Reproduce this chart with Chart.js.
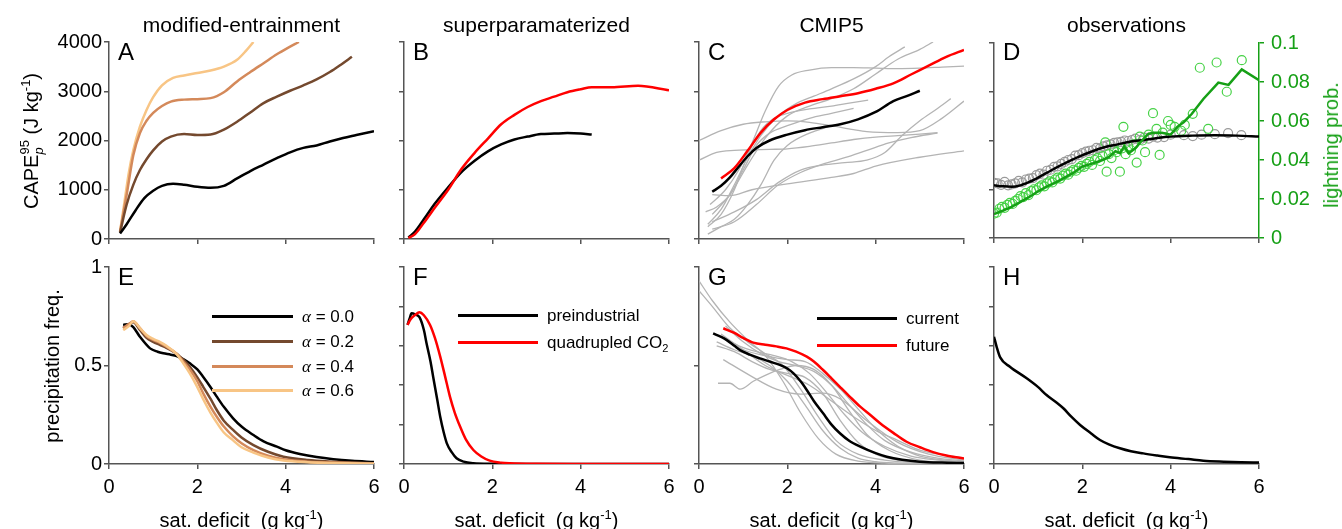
<!DOCTYPE html>
<html>
<head>
<meta charset="utf-8">
<script src="https://cdn.jsdelivr.net/npm/chart.js@4.4.1/dist/chart.umd.min.js"></script>
<style>
    body { margin: 0; background: #fff; }
    #fig { position: relative; width: 1342px; height: 529px; overflow: hidden;
           font-family: "Liberation Sans", Arial, sans-serif; color: #000; }
    #fig canvas { position: absolute; }
    .t { position: absolute; white-space: nowrap; line-height: 1; }
    .t sup, .t sub { font-size: 65%; line-height: 0; }
    .sw { position: absolute; height: 3px; }
    .al { font-family: "Liberation Serif", serif; font-style: italic; }
</style>
</head>
<body>
<div id="fig"></div>
<script>
// ---- data (x = saturation deficit, g/kg) ----

// A: modified entrainment, CAPE
const capeA0x = [0.25, 0.4, 0.6, 0.8, 1.0, 1.2, 1.45, 1.7, 2.0, 2.3, 2.6, 2.9, 3.2, 3.5, 3.8, 4.1, 4.4, 4.7, 5.0, 5.3, 5.6, 6.0];
const capeA0y = [110, 300, 580, 830, 980, 1080, 1120, 1100, 1060, 1040, 1080, 1230, 1380, 1510, 1640, 1760, 1850, 1900, 1980, 2050, 2110, 2190];
const capeA2x = [0.25, 0.4, 0.55, 0.7, 0.85, 1.0, 1.2, 1.4, 1.7, 2.0, 2.3, 2.6, 2.9, 3.2, 3.5, 3.8, 4.1, 4.4, 4.7, 5.0, 5.25, 5.5];
const capeA2y = [130, 700, 1100, 1400, 1620, 1800, 1980, 2080, 2130, 2110, 2120, 2220, 2380, 2570, 2760, 2890, 3010, 3120, 3240, 3390, 3540, 3700];
const capeA4x = [0.25, 0.4, 0.55, 0.7, 0.85, 1.0, 1.2, 1.4, 1.7, 2.0, 2.3, 2.6, 2.9, 3.2, 3.5, 3.8, 4.05, 4.3];
const capeA4y = [150, 900, 1700, 2150, 2400, 2560, 2700, 2790, 2830, 2840, 2860, 2980, 3200, 3390, 3570, 3750, 3880, 4000];
const capeA6x = [0.25, 0.35, 0.45, 0.55, 0.7, 0.85, 1.0, 1.2, 1.45, 1.7, 2.0, 2.3, 2.6, 2.9, 3.1, 3.27];
const capeA6y = [150, 750, 1350, 1800, 2280, 2620, 2880, 3120, 3270, 3320, 3370, 3420, 3500, 3640, 3820, 4000];

// B: superparameterized, CAPE
const capeBpiX = [0.1, 0.25, 0.45, 0.7, 1.0, 1.3, 1.6, 1.9, 2.2, 2.5, 2.8, 3.1, 3.4, 3.7, 4.0, 4.25];
const capeBpiY = [30, 150, 400, 720, 1050, 1360, 1590, 1780, 1920, 2020, 2080, 2130, 2140, 2150, 2140, 2120];
const capeB4xX = [0.1, 0.25, 0.45, 0.7, 1.0, 1.3, 1.6, 1.9, 2.2, 2.5, 2.8, 3.1, 3.4, 3.7, 4.0, 4.25, 4.7, 5.3, 6.0];
const capeB4xY = [20, 100, 330, 640, 1000, 1420, 1750, 2040, 2330, 2520, 2680, 2800, 2890, 2980, 3040, 3080, 3080, 3110, 3020];

// C: CMIP5, CAPE (multi-model mean + individual models)
const capeCnowX = [0.3, 0.5, 0.7, 0.9, 1.1, 1.3, 1.6, 2.0, 2.4, 2.8, 3.2, 3.6, 4.0, 4.4, 4.7, 5.0];
const capeCnowY = [960, 1080, 1250, 1470, 1680, 1850, 2000, 2120, 2210, 2270, 2330, 2430, 2580, 2800, 2900, 3010];
const capeCfutX = [0.5, 0.8, 1.1, 1.4, 1.7, 2.0, 2.4, 2.8, 3.2, 3.6, 4.0, 4.4, 4.8, 5.2, 5.6, 6.0];
const capeCfutY = [1230, 1440, 1790, 2160, 2430, 2620, 2770, 2840, 2900, 2960, 3050, 3160, 3340, 3520, 3700, 3840];
const capeCmodelX = [
    [0, 0.5, 1.0, 1.5, 2.0, 2.5, 3.0, 3.5, 3.8, 4.5, 5.0, 5.5, 6.0],
    [0, 0.4, 0.8, 1.2, 1.6, 2.0, 2.5, 3.0, 3.5, 4.0, 4.5, 5.0, 5.4],
    [0.25, 0.6, 0.9, 1.2, 1.5, 1.8, 2.1, 2.5, 3.0, 3.5, 4.0, 4.5, 5.0, 5.5, 6.0],
    [0.2, 0.5, 0.8, 1.1, 1.4, 1.8, 2.2, 2.6, 3.0, 3.5, 4.0, 4.3, 4.66],
    [0.3, 0.7, 1.1, 1.5, 2.0, 2.5, 3.0, 3.5, 4.0, 4.5, 5.0, 5.3],
    [0.3, 0.8, 1.3, 1.8, 2.3, 2.8, 3.3, 3.8, 4.2, 4.6, 5.0, 5.4, 5.7],
    [0.2, 0.5, 0.8, 1.1, 1.4, 1.7, 2.0, 2.5, 3.0, 3.4, 3.83],
    [0.3, 0.7, 1.2, 2.0, 3.0, 3.5, 4.0, 5.0, 6.0],
    [0.15, 0.4, 0.7, 1.0, 1.3, 1.6, 2.0, 2.5, 3.0, 3.5],
    [0.2, 0.5, 0.8, 1.1, 1.4, 1.7, 2.0, 2.5, 3.0],
    [0.3, 0.8, 1.3, 1.8, 2.3, 2.8, 3.3, 3.8, 4.3, 4.8, 5.4]
];
const capeCmodelY = [
    [2000, 2200, 2330, 2380, 2400, 2370, 2300, 2220, 2180, 2160, 2200, 2450, 2800],
    [1600, 1760, 1800, 1810, 1820, 1830, 1880, 1950, 2020, 2070, 2100, 2130, 2160],
    [700, 1000, 1400, 1950, 2600, 3100, 3330, 3430, 3480, 3480, 3470, 3460, 3470, 3490, 3510],
    [300, 600, 1100, 1650, 2100, 2500, 2750, 2900, 3050, 3250, 3500, 3700, 3900],
    [500, 900, 1500, 2050, 2500, 2700, 2850, 3050, 3350, 3650, 3850, 4000],
    [350, 550, 800, 1150, 1400, 1500, 1550, 1600, 1750, 2100, 2400, 2650, 2850],
    [250, 500, 1000, 1700, 2200, 2450, 2550, 2640, 2700, 2760, 2820],
    [900, 880, 1000, 1120, 1250, 1330, 1480, 1660, 1790],
    [550, 650, 900, 1400, 1900, 2150, 2300, 2450, 2550, 2650],
    [100, 250, 400, 700, 1100, 1600, 1900, 2150, 2300],
    [200, 350, 700, 1100, 1350, 1520, 1650, 1800, 1950, 2060, 2150]
];

// D: observations, CAPE (left axis) and lightning probability (right axis)
const obsCapeX = [0, 0.2, 0.4, 0.6, 0.8, 1.0, 1.3, 1.6, 1.9, 2.2, 2.5, 2.8, 3.1, 3.4, 3.7, 4.0, 4.5, 5.0, 5.5, 6.0];
const obsCapeY = [1080, 1060, 1050, 1080, 1150, 1240, 1390, 1530, 1660, 1770, 1860, 1920, 1980, 2010, 2050, 2080, 2100, 2110, 2100, 2080];
const obsCapeBinX = [0, 0.08, 0.16, 0.24, 0.32, 0.4, 0.48, 0.56, 0.64, 0.72, 0.8, 0.88, 0.96, 1.04, 1.12, 1.2, 1.28, 1.36, 1.44, 1.52, 1.6, 1.68, 1.76, 1.84, 1.92, 2.0, 2.08, 2.16, 2.24, 2.32, 2.4, 2.48, 2.56, 2.64, 2.72, 2.8, 2.88, 2.96, 3.04, 3.12, 3.2, 3.3, 3.4, 3.5, 3.6, 3.7, 3.85, 4.0, 4.3, 4.5, 4.7, 5.0, 5.3, 5.6];
const obsCapeBinY = [1130, 1120, 1090, 1150, 1080, 1100, 1120, 1170, 1140, 1200, 1220, 1230, 1290, 1320, 1300, 1380, 1400, 1460, 1470, 1520, 1560, 1600, 1620, 1690, 1700, 1740, 1770, 1790, 1800, 1850, 1840, 1880, 1900, 1920, 1950, 1960, 1970, 2000, 1990, 2010, 2040, 2010, 2060, 2040, 2080, 2060, 2070, 2120, 2110, 2090, 2120, 2130, 2150, 2110];
const lightX = [0, 0.2, 0.4, 0.6, 0.8, 1.0, 1.2, 1.4, 1.6, 1.8, 2.0, 2.2, 2.4, 2.6, 2.75, 2.85, 2.95, 3.05, 3.2, 3.35, 3.5, 3.65, 3.8, 4.0, 4.15, 4.3, 4.48, 4.74, 5.08, 5.31, 5.61, 6.0];
const lightP = [0.0122, 0.014, 0.016, 0.0185, 0.021, 0.024, 0.0265, 0.0285, 0.031, 0.0335, 0.0367, 0.038, 0.0395, 0.0415, 0.0445, 0.0435, 0.047, 0.0435, 0.046, 0.050, 0.0535, 0.054, 0.054, 0.053, 0.057, 0.0595, 0.0637, 0.0713, 0.0797, 0.0785, 0.0865, 0.0809];
const lightBinX = [0, 0.06, 0.12, 0.18, 0.24, 0.3, 0.36, 0.42, 0.48, 0.54, 0.6, 0.66, 0.72, 0.78, 0.84, 0.9, 0.96, 1.02, 1.08, 1.14, 1.2, 1.26, 1.32, 1.38, 1.44, 1.5, 1.56, 1.62, 1.68, 1.74, 1.8, 1.86, 1.92, 1.98, 2.04, 2.1, 2.16, 2.22, 2.28, 2.34, 2.4, 2.46, 2.52, 2.55, 2.6, 2.66, 2.72, 2.78, 2.85, 2.9, 2.93, 2.98, 3.04, 3.1, 3.16, 3.23, 3.3, 3.36, 3.42, 3.5, 3.6, 3.68, 3.75, 3.82, 3.94, 4.0, 4.09, 4.24, 4.32, 4.5, 4.66, 4.85, 5.04, 5.27, 5.61];
const lightBinP = [0.0125, 0.013, 0.015, 0.016, 0.0155, 0.017, 0.018, 0.0175, 0.019, 0.020, 0.0215, 0.021, 0.023, 0.022, 0.024, 0.025, 0.0245, 0.026, 0.027, 0.0265, 0.028, 0.029, 0.0285, 0.030, 0.031, 0.0305, 0.032, 0.033, 0.0325, 0.034, 0.035, 0.0345, 0.036, 0.037, 0.0365, 0.038, 0.039, 0.0375, 0.040, 0.041, 0.0395, 0.042, 0.049, 0.034, 0.043, 0.041, 0.045, 0.044, 0.034, 0.046, 0.057, 0.043, 0.047, 0.045, 0.048, 0.0387, 0.052, 0.050, 0.044, 0.053, 0.064, 0.056, 0.0426, 0.054, 0.060, 0.058, 0.057, 0.055, 0.058, 0.0637, 0.0873, 0.056, 0.090, 0.075, 0.0912];

// E: modified entrainment, precipitation frequency
const precEx = [0.32, 0.45, 0.55, 0.7, 0.93, 1.1, 1.23, 1.4, 1.53, 1.7, 1.83, 2.0, 2.13, 2.3, 2.44, 2.6, 2.81, 3.0, 3.27, 3.5, 3.8, 4.0, 4.32, 4.7, 5.08, 5.5, 6.0];
const precE0 = [0.706, 0.71, 0.695, 0.646, 0.587, 0.57, 0.562, 0.555, 0.548, 0.53, 0.511, 0.48, 0.443, 0.39, 0.342, 0.29, 0.232, 0.19, 0.147, 0.115, 0.088, 0.07, 0.051, 0.035, 0.024, 0.016, 0.010];
const precEax = [0.32, 0.45, 0.55, 0.7, 0.85, 1.0, 1.15, 1.3, 1.53, 1.7, 1.83, 2.0, 2.13, 2.3, 2.44, 2.6, 2.81, 3.0, 3.27, 3.6, 3.95, 4.5, 5.08, 6.0];
const precE2 = [0.69, 0.71, 0.72, 0.68, 0.64, 0.62, 0.605, 0.59, 0.56, 0.525, 0.494, 0.44, 0.393, 0.33, 0.274, 0.22, 0.173, 0.135, 0.096, 0.062, 0.037, 0.02, 0.012, 0.004];
const precE4 = [0.69, 0.71, 0.725, 0.69, 0.65, 0.63, 0.615, 0.595, 0.56, 0.515, 0.48, 0.42, 0.36, 0.29, 0.24, 0.19, 0.14, 0.105, 0.07, 0.042, 0.024, 0.012, 0.007, 0.002];
const precE6 = [0.68, 0.70, 0.725, 0.69, 0.655, 0.635, 0.62, 0.60, 0.558, 0.505, 0.46, 0.39, 0.33, 0.26, 0.21, 0.16, 0.12, 0.085, 0.058, 0.033, 0.018, 0.009, 0.005, 0.001];

// F: superparameterized, precipitation frequency
const precFpiX = [0.08, 0.13, 0.17, 0.25, 0.35, 0.45, 0.51, 0.6, 0.66, 0.75, 0.82, 0.9, 0.97, 1.08, 1.19, 1.35, 1.57, 2.0, 3, 4, 5, 6];
const precFpiY = [0.706, 0.74, 0.765, 0.76, 0.745, 0.68, 0.613, 0.52, 0.443, 0.33, 0.24, 0.16, 0.105, 0.06, 0.029, 0.012, 0.004, 0.001, 0, 0, 0, 0];
const precF4xX = [0.08, 0.15, 0.25, 0.35, 0.45, 0.59, 0.7, 0.82, 0.93, 1.04, 1.15, 1.27, 1.4, 1.57, 1.75, 1.94, 2.2, 2.4, 3, 4, 5, 6];
const precF4xY = [0.706, 0.735, 0.756, 0.77, 0.755, 0.706, 0.64, 0.545, 0.445, 0.342, 0.26, 0.19, 0.125, 0.071, 0.038, 0.017, 0.007, 0.004, 0.001, 0, 0, 0];

// G: CMIP5, precipitation frequency
const precGnowX = [0.32, 0.5, 0.63, 0.8, 0.93, 1.15, 1.38, 1.6, 1.83, 2.0, 2.14, 2.3, 2.44, 2.6, 2.81, 3.0, 3.19, 3.4, 3.65, 4.0, 4.25, 4.6, 5.0, 5.5, 6.0];
const precGnowY = [0.663, 0.645, 0.629, 0.6, 0.578, 0.555, 0.536, 0.52, 0.503, 0.485, 0.46, 0.42, 0.376, 0.32, 0.257, 0.2, 0.156, 0.118, 0.088, 0.055, 0.037, 0.022, 0.012, 0.007, 0.005];
const precGfutX = [0.55, 0.8, 1.0, 1.23, 1.5, 1.75, 1.98, 2.2, 2.44, 2.6, 2.81, 3.0, 3.19, 3.4, 3.65, 3.9, 4.1, 4.4, 4.7, 5.0, 5.3, 5.6, 6.0];
const precGfutY = [0.689, 0.665, 0.64, 0.616, 0.605, 0.597, 0.587, 0.57, 0.545, 0.52, 0.477, 0.435, 0.392, 0.345, 0.291, 0.245, 0.207, 0.158, 0.113, 0.085, 0.06, 0.043, 0.028];
const precGmodelX = [
    [0, 0.3, 0.7, 1.1, 1.5, 1.9, 2.3, 2.7, 3.1, 3.6, 4.2, 5.0, 6.0],
    [0, 0.3, 0.7, 1.1, 1.5, 1.9, 2.3, 2.7, 3.1, 3.6, 4.2, 5.0, 6.0],
    [0.5, 0.9, 1.3, 1.7, 2.1, 2.5, 2.9, 3.3, 3.7, 4.2, 4.8, 5.4, 6.0],
    [0.43, 0.7, 0.93, 1.23, 1.5, 1.83, 2.2, 2.6, 3.0, 3.4, 3.8, 4.3, 5.0, 6.0],
    [0.55, 1.15, 1.75, 2.3, 2.8, 3.2, 3.8, 4.5, 5.2, 6.0],
    [0.4, 0.8, 1.2, 1.6, 2.0, 2.4, 2.8, 3.2, 3.6, 4.0, 4.5, 5.0, 6.0],
    [0.4, 0.8, 1.2, 1.6, 2.0, 2.4, 2.8, 3.2, 3.6, 4.0, 4.5, 5.0, 6.0],
    [0.6, 1.0, 1.4, 1.8, 2.2, 2.6, 3.0, 3.4, 3.8, 4.2, 4.8, 5.4, 6.0],
    [0.5, 1.0, 1.5, 2.0, 2.5, 3.0, 3.5, 4.0, 4.5, 5.0, 6.0],
    [0.6, 1.0, 1.5, 2.0, 2.4, 2.8, 3.2, 3.6, 4.0, 4.5, 5.0, 6.0]
];
const precGmodelY = [
    [0.93, 0.83, 0.72, 0.63, 0.55, 0.42, 0.26, 0.13, 0.05, 0.015, 0.005, 0.001, 0],
    [0.88, 0.80, 0.69, 0.62, 0.56, 0.50, 0.38, 0.24, 0.12, 0.05, 0.02, 0.006, 0.002],
    [0.65, 0.60, 0.57, 0.55, 0.52, 0.46, 0.36, 0.25, 0.16, 0.09, 0.04, 0.02, 0.01],
    [0.41, 0.41, 0.38, 0.42, 0.45, 0.48, 0.50, 0.48, 0.40, 0.27, 0.15, 0.07, 0.02, 0.005],
    [0.53, 0.45, 0.38, 0.355, 0.36, 0.33, 0.22, 0.11, 0.05, 0.02],
    [0.62, 0.58, 0.55, 0.50, 0.42, 0.30, 0.17, 0.08, 0.03, 0.012, 0.004, 0.001, 0],
    [0.60, 0.57, 0.52, 0.48, 0.46, 0.44, 0.36, 0.22, 0.11, 0.05, 0.02, 0.008, 0.003],
    [0.70, 0.62, 0.56, 0.52, 0.50, 0.47, 0.40, 0.30, 0.20, 0.12, 0.06, 0.03, 0.015],
    [0.66, 0.58, 0.50, 0.45, 0.40, 0.32, 0.24, 0.17, 0.12, 0.07, 0.03],
    [0.63, 0.58, 0.55, 0.53, 0.52, 0.46, 0.38, 0.28, 0.18, 0.09, 0.04, 0.01]
];

// H: observations, precipitation frequency
const precHx = [0, 0.06, 0.14, 0.36, 0.74, 1.0, 1.19, 1.4, 1.57, 1.75, 1.95, 2.2, 2.4, 2.6, 2.85, 3.1, 3.38, 3.7, 3.98, 4.4, 4.74, 5.2, 5.6, 6.0];
const precHy = [0.646, 0.595, 0.541, 0.494, 0.435, 0.39, 0.35, 0.315, 0.283, 0.24, 0.198, 0.155, 0.122, 0.1, 0.08, 0.065, 0.054, 0.043, 0.034, 0.025, 0.017, 0.012, 0.009, 0.007];

// tick values
const xTicks = [0, 2, 4, 6];
const capeTicks = [0, 1000, 2000, 3000, 4000];
const lightTicks = [0, 0.02, 0.04, 0.06, 0.08, 0.1];

// ---- styling ----
const AXIS = '#555555';
const GRAY = '#b4b4b4';
const RED = '#ff0000';
const GREEN = '#16a016';
const GREEN_PT = '#46d246';
const ALPHA_COLORS = ['#000000', '#74492e', '#d4895a', '#f8c585'];

const PLOT_W = 265, PLOT_H = 197;
const colLeft = [109, 404, 699, 994];
const rowTop = [42, 267];

Chart.defaults.font.family = '"Liberation Sans", Arial, sans-serif';
Chart.defaults.color = '#000';

const fig = document.getElementById('fig');

function xy(xs, ys) {
    return xs.map((x, i) => ({ x, y: ys[i] }));
}

function line(xs, ys, color, width, extra) {
    return Object.assign({
        data: xy(xs, ys),
        borderColor: color,
        borderWidth: width,
        pointRadius: 0,
        fill: false,
        cubicInterpolationMode: 'monotone'
    }, extra || {});
}

function dots(xs, ys, color, extra) {
    return Object.assign({
        data: xy(xs, ys),
        showLine: false,
        pointRadius: 4.5,
        pointBorderWidth: 1.2,
        pointBorderColor: color,
        pointBackgroundColor: 'rgba(0,0,0,0)'
    }, extra || {});
}

function fixedTicks(values) {
    // force the tick positions to exactly the listed values
    return scale => { scale.ticks = values.map(v => ({ value: v })); };
}

function xScale(labels, padB) {
    return {
        type: 'linear', min: 0, max: 6,
        afterBuildTicks: fixedTicks(xTicks),
        afterFit: s => { s.height = padB; },
        ticks: { display: labels, font: { size: 20 }, padding: 6, maxRotation: 0, autoSkip: false,
                 callback: v => String(v) },
        grid: { drawOnChartArea: false, drawTicks: true, tickLength: 5, color: AXIS, lineWidth: 1.5 },
        border: { color: AXIS, width: 1.5 }
    };
}

function yScale(max, values, labels, padL) {
    return {
        type: 'linear', position: 'left', min: 0, max: max,
        afterBuildTicks: fixedTicks(values),
        afterFit: s => { s.width = padL; },
        ticks: { display: labels, font: { size: 20 }, padding: 2, callback: v => String(v) },
        grid: { drawOnChartArea: false, drawTicks: true, tickLength: 5, color: AXIS, lineWidth: 1.5 },
        border: { color: AXIS, width: 1.5 }
    };
}

function makePanel(col, row, datasets, yAxis, rightAxis) {
    const padL = 70, padT = 18, padB = row === 0 ? 18 : 46;
    const padR = rightAxis ? 80 : 16;
    const cv = document.createElement('canvas');
    cv.width = padL + PLOT_W + padR;
    cv.height = padT + PLOT_H + padB;
    cv.style.left = (colLeft[col] - padL) + 'px';
    cv.style.top = (rowTop[row] - padT) + 'px';
    fig.appendChild(cv);

    const scales = { x: xScale(row === 1, padB), y: yAxis(padL) };
    if (rightAxis) scales.y1 = rightAxis(padR);

    return new Chart(cv, {
        type: 'line',
        data: { datasets },
        options: {
            responsive: false,
            animation: false,
            events: [],
            layout: { padding: { top: padT, right: rightAxis ? 0 : padR, left: 0, bottom: 0 } },
            plugins: { legend: { display: false }, tooltip: { enabled: false } },
            scales
        }
    });
}

const capeAxis = labels => padL => yScale(4000, capeTicks, labels, padL);
const precAxis = (values, labels) => padL => yScale(1, values, labels, padL);

// ---- top row: CAPE ----
makePanel(0, 0, [
    line(capeA0x, capeA0y, ALPHA_COLORS[0], 2.5),
    line(capeA2x, capeA2y, ALPHA_COLORS[1], 2.5),
    line(capeA4x, capeA4y, ALPHA_COLORS[2], 2.5),
    line(capeA6x, capeA6y, ALPHA_COLORS[3], 2.5)
], capeAxis(true));

makePanel(1, 0, [
    line(capeB4xX, capeB4xY, RED, 2.5),
    line(capeBpiX, capeBpiY, '#000', 2.5)
], capeAxis(false));

makePanel(2, 0, [
    line(capeCfutX, capeCfutY, RED, 2.5),
    line(capeCnowX, capeCnowY, '#000', 2.5),
    ...capeCmodelX.map((xs, i) => line(xs, capeCmodelY[i], GRAY, 1.3))
], capeAxis(false));

makePanel(3, 0, [
    line(lightX, lightP, GREEN, 2.5, { yAxisID: 'y1', cubicInterpolationMode: 'default', tension: 0 }),
    line(obsCapeX, obsCapeY, '#000', 2.5),
    dots(lightBinX, lightBinP, GREEN_PT, { yAxisID: 'y1' }),
    dots(obsCapeBinX, obsCapeBinY, '#9a9a9a')
], capeAxis(false), padR => ({
    type: 'linear', position: 'right', min: 0, max: 0.1,
    afterBuildTicks: fixedTicks(lightTicks),
    afterFit: s => { s.width = padR; },
    ticks: { color: GREEN, font: { size: 20 }, padding: 7,
             callback: v => v === 0 ? '0' : String(+v.toFixed(2)) },
    grid: { drawOnChartArea: false, drawTicks: true, tickLength: 5, color: GREEN, lineWidth: 1.5 },
    border: { color: GREEN, width: 1.5 }
}));

// ---- bottom row: precipitation frequency ----
makePanel(0, 1, [
    line(precEax, precE6, ALPHA_COLORS[3], 2.5),
    line(precEax, precE4, ALPHA_COLORS[2], 2.5),
    line(precEax, precE2, ALPHA_COLORS[1], 2.5),
    line(precEx, precE0, ALPHA_COLORS[0], 2.5)
], precAxis([0, 0.5, 1], true));

makePanel(1, 1, [
    line(precF4xX, precF4xY, RED, 2.5),
    line(precFpiX, precFpiY, '#000', 2.5)
], precAxis([0, 0.2, 0.4, 0.6, 0.8, 1], false));

makePanel(2, 1, [
    line(precGfutX, precGfutY, RED, 2.5),
    line(precGnowX, precGnowY, '#000', 2.5),
    ...precGmodelX.map((xs, i) => line(xs, precGmodelY[i], GRAY, 1.3))
], precAxis([0, 0.5, 1], false));

makePanel(3, 1, [
    line(precHx, precHy, '#000', 2.5)
], precAxis([0, 0.2, 0.4, 0.6, 0.8, 1], false));

// ---- text ----
function text(html, x, y, opts) {
    const o = opts || {};
    const d = document.createElement('div');
    d.className = 't';
    d.innerHTML = html;
    d.style.left = x + 'px';
    d.style.top = y + 'px';
    d.style.fontSize = (o.size || 20) + 'px';
    if (o.color) d.style.color = o.color;
    const ax = o.anchor === 'left' ? '0' : '-50%';
    d.style.transform = `translate(${ax}, -50%)` + (o.rotate ? ' rotate(-90deg)' : '');
    fig.appendChild(d);
    return d;
}

const colTitles = ['modified-entrainment', 'superparamaterized', 'CMIP5', 'observations'];
colTitles.forEach((t, i) => text(t, colLeft[i] + PLOT_W / 2, 24, { size: 21 }));

const letters = [['A', 'B', 'C', 'D'], ['E', 'F', 'G', 'H']];
letters.forEach((row, r) => row.forEach((l, c) =>
    text(l, colLeft[c] + 9, rowTop[r] + 10, { size: 24, anchor: 'left' })));

colLeft.forEach(x0 => text('sat. deficit&nbsp;&nbsp;(g kg<sup>-1</sup>)', x0 + PLOT_W / 2, 520, { size: 20 }));

text('CAPE<span style="display:inline-block;vertical-align:-0.4em;font-size:65%;line-height:1.05;"><span style="display:block">95</span><span style="display:block;font-style:italic">p</span></span> (J kg<sup>-1</sup>)',
     32, 141, { size: 20, rotate: true });
text('precipitation freq.', 52, 366, { size: 20, rotate: true });
text('lightning prob.', 1331, 145, { size: 20, rotate: true, color: GREEN });

// legends
function legend(x1, x2, entries) {
    entries.forEach(([label, color, y]) => {
        const sw = document.createElement('div');
        sw.className = 'sw';
        sw.style.left = x1 + 'px';
        sw.style.width = (x2 - x1) + 'px';
        sw.style.top = (y - 1.5) + 'px';
        sw.style.background = color;
        fig.appendChild(sw);
        text(label, x2 + 9, y, { size: 17, anchor: 'left' });
    });
}

legend(212, 293, [
    ['<span class="al">α</span> = 0.0', ALPHA_COLORS[0], 316],
    ['<span class="al">α</span> = 0.2', ALPHA_COLORS[1], 341],
    ['<span class="al">α</span> = 0.4', ALPHA_COLORS[2], 366],
    ['<span class="al">α</span> = 0.6', ALPHA_COLORS[3], 390]
]);
legend(458, 538, [
    ['preindustrial', '#000', 315],
    ['quadrupled CO<sub>2</sub>', RED, 342]
]);
legend(817, 897, [
    ['current', '#000', 318],
    ['future', RED, 345]
]);
</script>
</body>
</html>
